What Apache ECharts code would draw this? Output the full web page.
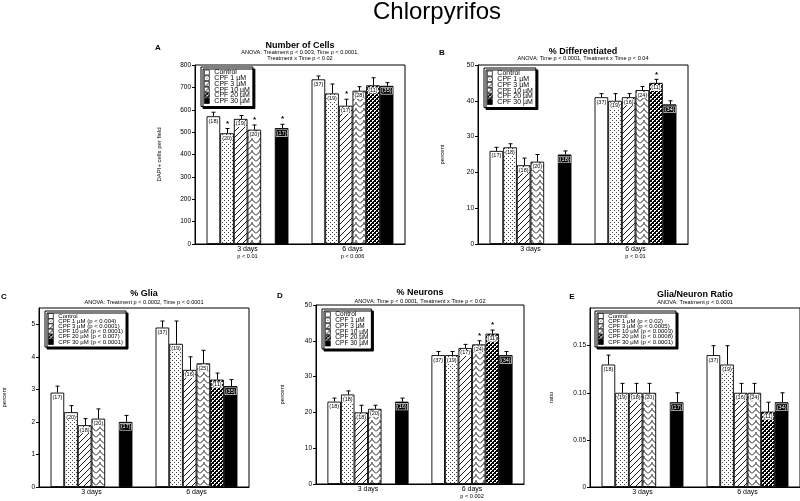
<!DOCTYPE html>
<html><head><meta charset="utf-8">
<script src="https://cdn.jsdelivr.net/npm/echarts@6/dist/echarts.min.js"></script>
<style>html,body{margin:0;padding:0;background:#fff}#c{width:800px;height:501px}</style>
</head><body><div id="c"></div>
<script>
// ---------- data ----------
const categories = ['3 days', '6 days'];
const treatments = ['Control', 'CPF 1 µM', 'CPF 3 µM', 'CPF 10 µM', 'CPF 20 µM', 'CPF 30 µM'];

// A: Number of Cells (DAPI+ cells per field)
const cells3d = [571, 495, 559, 511, null, 518];
const cells6d = [736, 673, 618, 685, 709, 707];
const cellsErr3d = [18, 21, 15, 21, null, 17];
const cellsErr6d = [15, 42, 29, 18, 34, 14];
const cellsN3d = [18, 20, 19, 20, null, 17];
const cellsN6d = [37, 19, 17, 28, 11, 35];
const cellsStar3d = [0, 1, 0, 1, 0, 1];
const cellsStar6d = [0, 0, 1, 0, 0, 0];
const cellsXLabels = ['3 days\np < 0.01', '6 days\np < 0.006'];

// B: % Differentiated
const diff3d = [26, 27, 22, 23, null, 25];
const diff6d = [41, 40, 41, 43, 45, 39];
const diffErr3d = [1, 1, 2, 2, null, 1];
const diffErr6d = [1, 2, 1, 1, 1, 1];
const diffN3d = [17, 18, 18, 20, null, 18];
const diffN6d = [37, 19, 16, 24, 11, 34];
const diffStar3d = [0, 0, 0, 0, 0, 0];
const diffStar6d = [0, 0, 0, 0, 1, 0];
const diffXLabels = ['3 days', '6 days\np < 0.01'];

// C: % Glia
const glia3d = [2.9, 2.3, 1.9, 2.1, null, 2.0];
const glia6d = [4.9, 4.4, 3.6, 3.8, 3.3, 3.1];
const gliaErr3d = [0.2, 0.2, 0.2, 0.3, null, 0.2];
const gliaErr6d = [0.2, 0.7, 0.4, 0.4, 0.2, 0.2];
const gliaN3d = [17, 20, 18, 20, null, 17];
const gliaN6d = [37, 19, 16, 25, 11, 35];
const gliaStar3d = [0, 0, 0, 0, 0, 0];
const gliaStar6d = [0, 0, 0, 0, 0, 0];
const gliaXLabels = ['3 days', '6 days'];
const gliaLegendP = ['', ' (p < 0.004)', ' (p < 0.0001)', ' (p < 0.0001)', ' (p < 0.007)', ' (p < 0.0001)'];

// D: % Neurons
const neur3d = [23, 25, 20, 21, null, 23];
const neur6d = [36, 36, 38, 39, 42, 36];
const neurErr3d = [1, 1, 2, 1, null, 1];
const neurErr6d = [1, 1, 1, 1, 1, 1];
const neurN3d = [18, 18, 18, 20, null, 16];
const neurN6d = [37, 19, 17, 24, 11, 34];
const neurStar3d = [0, 0, 0, 0, 0, 0];
const neurStar6d = [0, 0, 0, 1, 1, 0];
const neurXLabels = ['3 days', '6 days\np < 0.002'];

// E: Glia/Neuron Ratio
const ratio3d = [0.13, 0.10, 0.10, 0.10, null, 0.09];
const ratio6d = [0.14, 0.13, 0.10, 0.10, 0.08, 0.09];
const ratioErr3d = [0.01, 0.01, 0.01, 0.01, null, 0.01];
const ratioErr6d = [0.01, 0.02, 0.01, 0.01, 0.01, 0.01];
const ratioN3d = [18, 19, 18, 20, null, 17];
const ratioN6d = [37, 19, 16, 24, 11, 34];
const ratioStar3d = [0, 0, 0, 0, 0, 0];
const ratioStar6d = [0, 0, 0, 0, 0, 0];
const ratioXLabels = ['3 days', '6 days'];
const ratioLegendP = ['', ' (p < 0.02)', ' (p < 0.0005)', ' (p < 0.0003)', ' (p < 0.0008)', ' (p < 0.0001)'];

// ---------- styles ----------
const FONT = '"Liberation Sans", Arial, sans-serif';
function pat(w, h, bg, draw) {
  const c = document.createElement('canvas');
  c.width = w; c.height = h;
  const ctx = c.getContext('2d');
  ctx.fillStyle = bg; ctx.fillRect(0, 0, w, h);
  draw(ctx);
  return { image: c, repeat: 'repeat' };
}
const fills = [
  '#ffffff',
  pat(4, 4, '#fff', ctx => { ctx.fillStyle = '#444'; ctx.fillRect(0, 0, 1, 1); ctx.fillRect(2, 2, 1, 1); }),
  pat(6, 6, '#fff', ctx => {
    ctx.strokeStyle = '#000'; ctx.lineWidth = 0.9; ctx.beginPath();
    ctx.moveTo(-1, 7); ctx.lineTo(7, -1); ctx.moveTo(-1, 1); ctx.lineTo(1, -1); ctx.moveTo(5, 7); ctx.lineTo(7, 5);
    ctx.stroke();
  }),
  pat(8, 6, '#fff', ctx => {
    ctx.strokeStyle = '#000'; ctx.lineWidth = 0.9; ctx.beginPath();
    ctx.moveTo(0, 5.5); ctx.lineTo(4, 1.5); ctx.lineTo(8, 5.5);
    ctx.moveTo(4, 1.5); ctx.lineTo(4, -0.5);
    ctx.stroke();
  }),
  pat(4, 4, '#000', ctx => { ctx.fillStyle = '#fff'; ctx.fillRect(0, 0, 2, 1); ctx.fillRect(0, 1, 1, 1); ctx.fillRect(2, 2, 2, 1); ctx.fillRect(2, 3, 1, 1); }),
  '#000000'
];

const GAP = 0.22;
const panels = [
  { letter: 'A', title: 'Number of Cells', sub: ['ANOVA: Treatment p < 0.003, Time p < 0.0001,', 'Treatment x Time p < 0.02'],
    grid: { left: 195, top: 65, width: 210, height: 179 }, letterPos: [158, 48], titleY: 46, subY: 52.5,
    yMax: 800, yInt: 100, yName: 'DAPI+ cells per field', nameGap: 33,
    m: [cells3d, cells6d], e: [cellsErr3d, cellsErr6d], n: [cellsN3d, cellsN6d], s: [cellsStar3d, cellsStar6d],
    xl: cellsXLabels, legend: { left: 201, top: 67 }, lfs: 7, lgap: -1.3, lp: null },
  { letter: 'B', title: '% Differentiated', sub: ['ANOVA: Time p < 0.0001, Treatment x Time p < 0.04'],
    grid: { left: 478, top: 65, width: 210, height: 179 }, letterPos: [442, 53], titleY: 52, subY: 58.5,
    yMax: 50, yInt: 10, yName: 'percent', nameGap: 33,
    m: [diff3d, diff6d], e: [diffErr3d, diffErr6d], n: [diffN3d, diffN6d], s: [diffStar3d, diffStar6d],
    xl: diffXLabels, legend: { left: 484, top: 68 }, lfs: 7, lgap: -1.3, lp: null },
  { letter: 'C', title: '% Glia', sub: ['ANOVA: Treatment p < 0.0002, Time p < 0.0001'],
    grid: { left: 39, top: 308, width: 210, height: 179 }, letterPos: [4, 297], titleY: 294, subY: 302.5,
    yMax: 5.5, yInt: 1, yName: 'percent', nameGap: 32,
    m: [glia3d, glia6d], e: [gliaErr3d, gliaErr6d], n: [gliaN3d, gliaN6d], s: [gliaStar3d, gliaStar6d],
    xl: gliaXLabels, legend: { left: 45, top: 311 }, lfs: 6, lgap: -0.8, lp: gliaLegendP },
  { letter: 'D', title: '% Neurons', sub: ['ANOVA: Time p < 0.0001, Treatment x Time p < 0.02'],
    grid: { left: 316, top: 305, width: 208, height: 179 }, letterPos: [280, 296], titleY: 293, subY: 301.5,
    yMax: 50, yInt: 10, yName: 'percent', nameGap: 31,
    m: [neur3d, neur6d], e: [neurErr3d, neurErr6d], n: [neurN3d, neurN6d], s: [neurStar3d, neurStar6d],
    xl: neurXLabels, legend: { left: 322, top: 309 }, lfs: 6.5, lgap: -1.2, lp: null },
  { letter: 'E', title: 'Glia/Neuron Ratio', sub: ['ANOVA: Treatment p < 0.0001'],
    grid: { left: 590, top: 308, width: 210, height: 179 }, letterPos: [572, 297], titleY: 295, subY: 302.5,
    yMax: 0.19, yInt: 0.05, yName: 'ratio', nameGap: 36,
    m: [ratio3d, ratio6d], e: [ratioErr3d, ratioErr6d], n: [ratioN3d, ratioN6d], s: [ratioStar3d, ratioStar6d],
    xl: ratioXLabels, legend: { left: 595, top: 311 }, lfs: 6, lgap: -0.8, lp: ratioLegendP,
    fmt: v => v === 0 ? '0' : v.toFixed(2) }
];

// ---------- build option ----------
const grids = [], xAxes = [], yAxes = [], series = [], legends = [], graphics = [];
graphics.push({ type: 'text', x: 437, y: 12, style: { text: 'Chlorpyrifos', font: '24px ' + FONT, fill: '#000', align: 'center', verticalAlign: 'middle' } });

panels.forEach((p, k) => {
  grids.push(Object.assign({ show: true, borderColor: '#000', borderWidth: 1, backgroundColor: 'transparent' }, p.grid));
  xAxes.push({
    type: 'category', gridIndex: k, data: categories,
    axisLine: { lineStyle: { color: '#000', width: 1 } },
    axisTick: { inside: true, length: 3, lineStyle: { color: '#000' } },
    axisLabel: {
      margin: 1, color: '#000', fontFamily: FONT, fontSize: 7,
      formatter: (v, i) => { const parts = p.xl[i].split('\n'); return parts.length > 1 ? '{d|' + parts[0] + '}\n{p|' + parts[1] + '}' : '{d|' + parts[0] + '}'; },
      rich: { d: { fontSize: 7, fontFamily: FONT, color: '#000', lineHeight: 8 }, p: { fontSize: 5.6, fontFamily: FONT, color: '#000', lineHeight: 7 } }
    }
  });
  yAxes.push({
    type: 'value', gridIndex: k, min: 0, max: p.yMax, interval: p.yInt,
    name: p.yName, nameLocation: 'middle', nameGap: p.nameGap,
    nameTextStyle: { fontSize: 6, fontFamily: FONT, color: '#000' },
    splitLine: { show: false },
    axisLine: { show: true, lineStyle: { color: '#000', width: 1 } },
    axisTick: { show: true, length: 3, lineStyle: { color: '#000' } },
    axisLabel: { margin: 4, color: '#000', fontFamily: FONT, fontSize: 6.5, showMaxLabel: p.yMax % p.yInt === 0, formatter: p.fmt }
  });
  treatments.forEach((t, i) => {
    const isBlack = i === 5;
    series.push({
      type: 'bar', name: t, xAxisIndex: k, yAxisIndex: k,
      barGap: '0%', barCategoryGap: (GAP * 100) + '%',
      itemStyle: { color: fills[i], borderColor: '#000', borderWidth: 0.9 },
      data: [0, 1].map(c => {
        const v = p.m[c][i];
        if (v === null) return '-';
        return { value: v, label: { formatter: '(' + p.n[c][i] + ')' } };
      }),
      label: {
        show: true, position: 'insideTop', distance: 2,
        fontSize: 5.5, fontFamily: FONT,
        color: isBlack ? '#fff' : '#000',
        backgroundColor: isBlack ? '#000' : '#fff',
        borderColor: isBlack ? '#fff' : 'transparent', borderWidth: isBlack ? 0.6 : 0,
        padding: [0, 0.5]
      },
      z: 2
    });
  });
  const eData = [];
  [0, 1].forEach(c => treatments.forEach((t, i) => {
    const v = p.m[c][i];
    if (v !== null) eData.push([c, i, v, p.e[c][i], p.s[c][i]]);
  }));
  series.push({
    type: 'custom', xAxisIndex: k, yAxisIndex: k, z: 5, silent: true,
    encode: { x: 0, y: 2 },
    data: eData,
    renderItem: (params, api) => {
      const c = api.value(0), i = api.value(1), v = api.value(2), e = api.value(3), st = api.value(4);
      const band = api.size([1, 0])[0];
      const bw = band * (1 - GAP) / 6;
      const base = api.coord([c, v]);
      const x = Math.round(base[0] + (i - 2.5) * bw) + 0.5;
      const yTop = api.coord([c, v + e])[1];
      const ch = [
        { type: 'line', shape: { x1: x, y1: base[1], x2: x, y2: yTop }, style: { stroke: '#000', lineWidth: 1 } },
        { type: 'line', shape: { x1: x - 2, y1: yTop, x2: x + 2, y2: yTop }, style: { stroke: '#000', lineWidth: 1 } }
      ];
      if (st) ch.push({ type: 'text', x: x, y: yTop - 1, style: { text: '*', font: 'bold 8px ' + FONT, fill: '#000', align: 'center', verticalAlign: 'bottom' } });
      return { type: 'group', children: ch };
    }
  });
  legends.push({
    left: p.legend.left, top: p.legend.top, orient: 'vertical', selectedMode: false,
    data: treatments.map((t, i) => ({ name: t, itemStyle: { color: fills[i], borderColor: '#000', borderWidth: 0.7 } })),
    icon: 'rect', itemWidth: 5, itemHeight: 5, itemGap: p.lgap,
    padding: [2, 3, 2, 3],
    backgroundColor: '#fff', borderColor: '#000', borderWidth: 1,
    shadowColor: '#000', shadowOffsetX: 2, shadowOffsetY: 2, shadowBlur: 0,
    textStyle: { fontSize: p.lfs, fontFamily: FONT, color: '#000' },
    formatter: p.lp ? (name => name + p.lp[treatments.indexOf(name)]) : undefined
  });
  const cx = p.grid.left + p.grid.width / 2;
  graphics.push({ type: 'text', x: p.letterPos[0], y: p.letterPos[1], style: { text: p.letter, font: 'bold 8px ' + FONT, fill: '#000', align: 'center', verticalAlign: 'middle' } });
  graphics.push({ type: 'text', x: cx, y: p.titleY, style: { text: p.title, font: 'bold 9px ' + FONT, fill: '#000', align: 'center', verticalAlign: 'middle' } });
  p.sub.forEach((s, j) => graphics.push({ type: 'text', x: cx, y: p.subY + j * 5.5, style: { text: s, font: '5.6px ' + FONT, fill: '#000', align: 'center', verticalAlign: 'middle' } }));
});

const chart = echarts.init(document.getElementById('c'), null, { renderer: 'canvas' });
chart.setOption({
  animation: false,
  backgroundColor: '#fff',
  textStyle: { fontFamily: FONT },
  grid: grids, xAxis: xAxes, yAxis: yAxes, series: series, legend: legends, graphic: graphics
});
</script></body></html>
